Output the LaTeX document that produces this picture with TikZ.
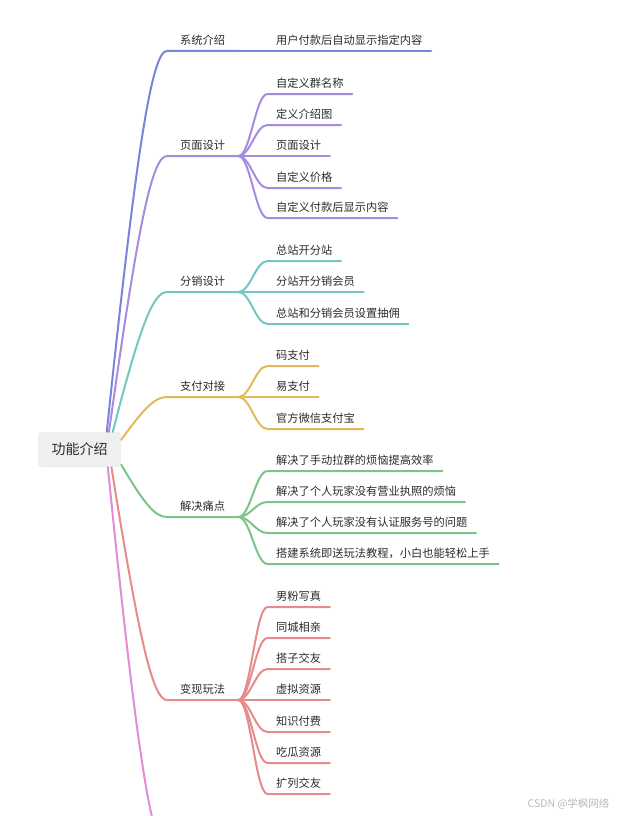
\documentclass[tikz,border=0pt]{standalone}
\usepackage{fontspec}
\setmainfont{Noto Sans CJK SC}

\definecolor{txt}{HTML}{2B2B2B}
\definecolor{rootfill}{HTML}{EEF0EF}
\definecolor{cblue}{HTML}{7A85DA}
\definecolor{cpurple}{HTML}{A78BE0}
\definecolor{cteal}{HTML}{72C7C3}
\definecolor{cgold}{HTML}{E4B95B}
\definecolor{cgreen}{HTML}{7CC48A}
\definecolor{cred}{HTML}{E68A8A}
\definecolor{cpink}{HTML}{E38AD9}

\begin{document}
\begin{tikzpicture}[x=1pt, y=-1pt,
    lvone/.style={anchor=south west, font=\fontsize{11.25}{13}\selectfont, text=txt,
        text height=9pt, text depth=2pt, inner xsep=13pt, inner ysep=4.5pt},
    lvtwo/.style={lvone, inner xsep=8.5pt},
    branch/.style={line width=2pt, line cap=round}]
    \clip (0,0) rectangle (619,816);

    % centre
    \node[fill=rootfill, rounded corners=3pt, minimum width=83pt, minimum height=35pt,
        font=\fontsize{14}{16}\selectfont, text=txt] (root) at (79.5,449.5) {功能介绍};

    % first level
    \node[lvone] (b1) at (167,51) {系统介绍};
    \node[lvone] (b2) at (167,156) {页面设计};
    \node[lvone] (b3) at (167,292) {分销设计};
    \node[lvone] (b4) at (167,397) {支付对接};
    \node[lvone] (b5) at (167,517) {解决痛点};
    \node[lvone] (b6) at (167,700) {变现玩法};
    \coordinate (b7) at (167,850);

    % second level
    \node[lvtwo] (c11) at (267.5,51) {用户付款后自动显示指定内容};

    \node[lvtwo] (c21) at (267.5,94) {自定义群名称};
    \node[lvtwo] (c22) at (267.5,125) {定义介绍图};
    \node[lvtwo] (c23) at (267.5,156) {页面设计};
    \node[lvtwo] (c24) at (267.5,188) {自定义价格};
    \node[lvtwo] (c25) at (267.5,218) {自定义付款后显示内容};

    \node[lvtwo] (c31) at (267.5,261) {总站开分站};
    \node[lvtwo] (c32) at (267.5,292) {分站开分销会员};
    \node[lvtwo] (c33) at (267.5,324) {总站和分销会员设置抽佣};

    \node[lvtwo] (c41) at (267.5,366) {码支付};
    \node[lvtwo] (c42) at (267.5,397) {易支付};
    \node[lvtwo] (c43) at (267.5,429) {官方微信支付宝};

    \node[lvtwo] (c51) at (267.5,471) {解决了手动拉群的烦恼提高效率};
    \node[lvtwo] (c52) at (267.5,502) {解决了个人玩家没有营业执照的烦恼};
    \node[lvtwo] (c53) at (267.5,533) {解决了个人玩家没有认证服务号的问题};
    \node[lvtwo] (c54) at (267.5,564) {搭建系统即送玩法教程，小白也能轻松上手};

    \node[lvtwo] (c61) at (267.5,607) {男粉写真};
    \node[lvtwo] (c62) at (267.5,638) {同城相亲};
    \node[lvtwo] (c63) at (267.5,669) {搭子交友};
    \node[lvtwo] (c64) at (267.5,700) {虚拟资源};
    \node[lvtwo] (c65) at (267.5,732) {知识付费};
    \node[lvtwo] (c66) at (267.5,763) {吃瓜资源};
    \node[lvtwo] (c67) at (267.5,794) {扩列交友};

    \node[anchor=east, text=gray!55, font=\fontsize{10.5}{12}\selectfont] (mark) at (613,804) {CSDN @学枫网络};

    % branches from the centre
    \draw[branch, cblue] (root.33) .. controls +(30,-286) and +(-15,0) .. (b1.south west) -- (b1.south east);
    \draw[branch, cpurple] (root.31) .. controls +(29,-207) and +(-15,0) .. (b2.south west) -- (b2.south east);
    \draw[branch, cteal] (root.28) .. controls +(27,-105) and +(-14,0) .. (b3.south west) -- (b3.south east);
    \draw[branch, cgold] (root.13) .. controls +(23,-32) and +(-12,0) .. (b4.south west) -- (b4.south east);
    \draw[branch, cgreen] (root.-20) .. controls +(23,39) and +(-12,0) .. (b5.south west) -- (b5.south east);
    \draw[branch, cred] (root.-29) .. controls +(28,175) and +(-14,0) .. (b6.south west) -- (b6.south east);
    \draw[branch, cpink] (root.-32) .. controls +(29,287) and +(-15,0) .. (b7);

    % sub branches
    \draw[branch, cblue] (b1.south east) -- (c11.south west) -- (c11.south east);

    \draw[branch, cpurple] (b2.south east) .. controls +(12,0) and +(-12,0) .. (c21.south west) -- (c21.south east);
    \draw[branch, cpurple] (b2.south east) .. controls +(12,0) and +(-12,0) .. (c22.south west) -- (c22.south east);
    \draw[branch, cpurple] (b2.south east) -- (c23.south west) -- (c23.south east);
    \draw[branch, cpurple] (b2.south east) .. controls +(12,0) and +(-12,0) .. (c24.south west) -- (c24.south east);
    \draw[branch, cpurple] (b2.south east) .. controls +(12,0) and +(-12,0) .. (c25.south west) -- (c25.south east);

    \draw[branch, cteal] (b3.south east) .. controls +(12,0) and +(-12,0) .. (c31.south west) -- (c31.south east);
    \draw[branch, cteal] (b3.south east) -- (c32.south west) -- (c32.south east);
    \draw[branch, cteal] (b3.south east) .. controls +(12,0) and +(-12,0) .. (c33.south west) -- (c33.south east);

    \draw[branch, cgold] (b4.south east) .. controls +(12,0) and +(-12,0) .. (c41.south west) -- (c41.south east);
    \draw[branch, cgold] (b4.south east) -- (c42.south west) -- (c42.south east);
    \draw[branch, cgold] (b4.south east) .. controls +(12,0) and +(-12,0) .. (c43.south west) -- (c43.south east);

    \draw[branch, cgreen] (b5.south east) .. controls +(12,0) and +(-12,0) .. (c51.south west) -- (c51.south east);
    \draw[branch, cgreen] (b5.south east) .. controls +(12,0) and +(-12,0) .. (c52.south west) -- (c52.south east);
    \draw[branch, cgreen] (b5.south east) .. controls +(12,0) and +(-12,0) .. (c53.south west) -- (c53.south east);
    \draw[branch, cgreen] (b5.south east) .. controls +(12,0) and +(-12,0) .. (c54.south west) -- (c54.south east);

    \draw[branch, cred] (b6.south east) .. controls +(12,0) and +(-12,0) .. (c61.south west) -- (c61.south east);
    \draw[branch, cred] (b6.south east) .. controls +(12,0) and +(-12,0) .. (c62.south west) -- (c62.south east);
    \draw[branch, cred] (b6.south east) .. controls +(12,0) and +(-12,0) .. (c63.south west) -- (c63.south east);
    \draw[branch, cred] (b6.south east) -- (c64.south west) -- (c64.south east);
    \draw[branch, cred] (b6.south east) .. controls +(12,0) and +(-12,0) .. (c65.south west) -- (c65.south east);
    \draw[branch, cred] (b6.south east) .. controls +(12,0) and +(-12,0) .. (c66.south west) -- (c66.south east);
    \draw[branch, cred] (b6.south east) .. controls +(12,0) and +(-12,0) .. (c67.south west) -- (c67.south east);
\end{tikzpicture}
\end{document}
